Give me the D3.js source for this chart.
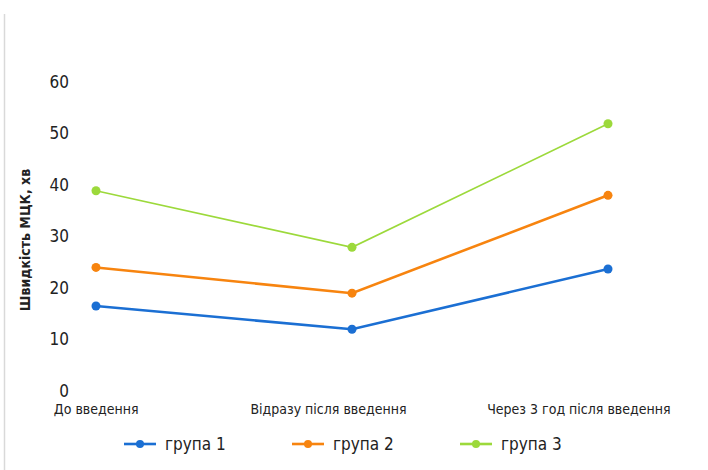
<!DOCTYPE html>
<html><head><meta charset="utf-8">
<script src="https://cdn.jsdelivr.net/npm/d3@7"></script>
<style>
html,body{margin:0;padding:0;background:#fff;}
svg{display:block;}
</style>
</head><body>
<svg id="chart" width="708" height="470"></svg>
<script>
const categories = ["До введення", "Відразу після введення", "Через 3 год після введення"];
const seriesNames = ["група 1", "група 2", "група 3"];
const group1 = [16.3, 11.8, 23.5];
const group2 = [23.8, 18.8, 37.8];
const group3 = [38.7, 27.7, 51.7];
const yTicks = [0, 10, 20, 30, 40, 50, 60];
const yTitle = "Швидкість МЦК, хв";
const colors = ["#1b6fd3", "#f7840f", "#9cd93b"];
const widths = [2.6, 2.6, 1.6];

const series = [group1, group2, group3];
const FONT = "'Liberation Sans Narrow','DejaVu Sans Condensed','Roboto',sans-serif";

const svg = d3.select("#chart");
const x = d3.scalePoint().domain(categories).range([96, 608]);
const y = d3.scaleLinear().domain([0, 60]).range([390, 81]);

// left frame line
svg.append("line").attr("x1", 4.5).attr("x2", 4.5).attr("y1", 14).attr("y2", 470)
  .attr("stroke", "#d9d9d9").attr("stroke-width", 1.5);

// y axis (labels only)
const yAxis = d3.axisLeft(y).tickValues(yTicks).tickSize(0).tickPadding(0);
const gy = svg.append("g").attr("transform", "translate(69,0)").call(yAxis);
gy.select(".domain").remove();
gy.selectAll("text").attr("font-family", FONT).attr("font-size", 17)
  .attr("fill", "#222").attr("dy", "0.36em");

// x axis labels
const xAxis = d3.axisBottom(x).tickSize(0).tickPadding(0);
const gx = svg.append("g").attr("transform", "translate(0,404)").call(xAxis);
gx.select(".domain").remove();
gx.selectAll("text").attr("font-family", FONT).attr("font-size", 14)
  .attr("fill", "#222").attr("text-anchor", "end").attr("dx", (d, i) => [42, 54, 62][i]);

// y title
svg.append("text").attr("transform", "translate(30,240) rotate(-90)")
  .attr("text-anchor", "middle").attr("font-family", FONT)
  .attr("font-weight", "bold").attr("font-size", 14).attr("fill", "#222").text(yTitle);

// lines
const line = d3.line().x((d, i) => x(categories[i])).y(d => y(d));
series.forEach((s, k) => {
  svg.append("path").datum(s).attr("d", line).attr("fill", "none")
    .attr("stroke", colors[k]).attr("stroke-width", widths[k]);
  svg.selectAll(null).data(s).enter().append("circle")
    .attr("cx", (d, i) => x(categories[i])).attr("cy", d => y(d))
    .attr("r", 4.5).attr("fill", colors[k]);
});

// legend
const legend = svg.append("g").attr("transform", "translate(124,444)");
seriesNames.forEach((n, k) => {
  const g = legend.append("g").attr("transform", `translate(${k * 168},0)`);
  g.append("line").attr("x1", 0).attr("x2", 32).attr("y1", 0).attr("y2", 0)
    .attr("stroke", colors[k]).attr("stroke-width", 2.6);
  g.append("circle").attr("cx", 16).attr("cy", 0).attr("r", 4).attr("fill", colors[k]);
  g.append("text").attr("x", 41).attr("y", 0).attr("dy", "0.36em")
    .attr("font-family", FONT).attr("font-size", 17).attr("fill", "#222").text(n);
});
</script>
</body></html>
